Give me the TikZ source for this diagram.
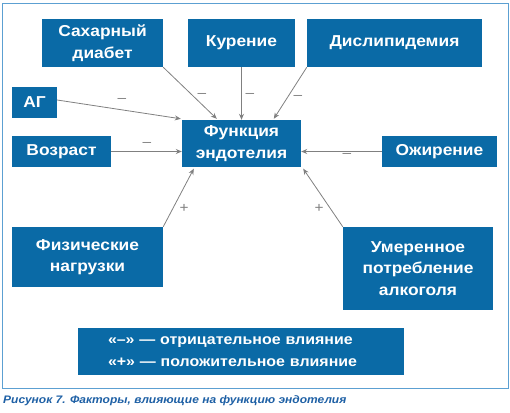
\documentclass[tikz,border=0pt]{standalone}
\usepackage{fontspec}
\setmainfont[FakeStretch=1.1]{Liberation Sans}
\usetikzlibrary{arrows.meta,calc}
\definecolor{boxblue}{RGB}{10,106,166}
\definecolor{framec}{RGB}{92,160,210}
\definecolor{arrgray}{RGB}{128,128,128}
\definecolor{capblue}{RGB}{30,96,165}
\tikzset{
  fbox/.style={fill=boxblue,draw=none,text=white,font=\fontsize{15.8}{21.5}\selectfont\bfseries,align=center,inner sep=0pt},
  conn/.style={draw=arrgray,line width=0.8pt,-{Stealth[length=6pt,width=5pt]}},
  sgn/.style={text=arrgray,font=\fontsize{14}{14}\selectfont,inner sep=0pt}
}
\begin{document}
\begin{tikzpicture}[x=1pt,y=-1pt]
\useasboundingbox (0,0) rectangle (510,412);
\draw[framec,line width=1pt] (2,4) rectangle (508,388);
\node[fbox,minimum width=121pt,minimum height=48pt] (sd) at (102.5,43) {Сахарный\\диабет};
\node[fbox,minimum width=107pt,minimum height=48pt] (kur) at (241.5,43) {Курение};
\node[fbox,minimum width=175pt,minimum height=48pt] (dis) at (394.5,43) {Дислипидемия};
\node[fbox,minimum width=45pt,minimum height=31pt] (ag) at (34.5,102.5) {АГ};
\node[fbox,minimum width=119pt,minimum height=47pt] (fe) at (241.5,143.5) {Функция\\эндотелия};
\node[fbox,minimum width=99pt,minimum height=31pt] (voz) at (61.5,151.5) {Возраст};
\node[fbox,minimum width=115pt,minimum height=31pt] (ozh) at (439.5,151.5) {Ожирение};
\node[fbox,minimum width=151pt,minimum height=60pt] (fiz) at (87.5,257) {Физические\\нагрузки};
\node[fbox,minimum width=150pt,minimum height=83pt] (um) at (418,268.5) {Умеренное\\потребление\\алкоголя};
\node[fbox,minimum height=47pt,text width=266pt,inner xsep=30pt,font=\fontsize{14.5}{22.5}\selectfont\bfseries,align=left] (leg) at (241,351.5) {«–» — отрицательное влияние\\«+» — положительное влияние};
\node[anchor=west,inner sep=0pt,text=capblue,font=\fontsize{10.9}{12}\selectfont\bfseries\itshape] (cap) at (3,401) {Рисунок 7. Факторы, влияющие на функцию эндотелия};
% connectors
\coordinate (tsd) at ($(fe.north west)+(35,-1)$);
\coordinate (tdis) at ($(fe.north west)+(92,-1)$);
\coordinate (tfiz) at ($(fe.south west)+(12,1.5)$);
\coordinate (tum) at ($(fe.south east)+(2,1.5)$);
\draw[conn] (sd.south east) -- (tsd);
\draw[conn] (kur.south) -- (fe.north);
\draw[conn] (dis.south west) -- (tdis);
\draw[conn] ($(ag.east)+(0,-2.5)$) -- ($(fe.north west)+(-1,-1)$);
\draw[conn] (voz.east) -- (voz.east -| fe.west);
\draw[conn] (ozh.west) -- (ozh.west -| fe.east);
\draw[conn] (fiz.north east) -- (tfiz);
\draw[conn] (um.north west) -- (tum);
% signs
\node[sgn] (s1) at (122,100) {–};
\node[sgn] (s2) at (202,95) {–};
\node[sgn] (s3) at (250,95) {–};
\node[sgn] (s4) at (298,97) {–};
\node[sgn] (s5) at (147,144) {–};
\node[sgn] (s6) at (347,155) {–};
\node[sgn] (s7) at (184,208) {+};
\node[sgn] (s8) at (319,208) {+};
\end{tikzpicture}
\end{document}
